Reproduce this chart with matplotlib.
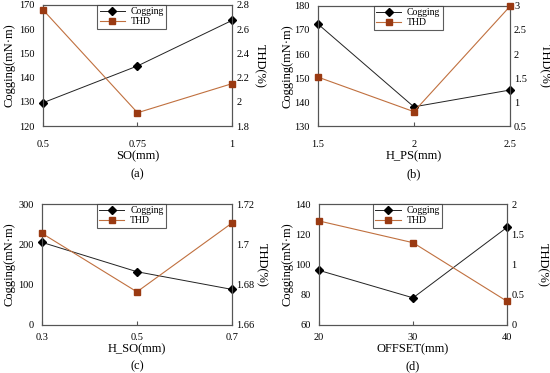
import matplotlib
matplotlib.use("Agg")
import matplotlib.pyplot as plt

plt.rcParams['font.family'] = ['Liberation Serif', 'DejaVu Serif']

# Data
a_x = [0.5, 0.75, 1]
a_xticklabels = ["0.5", "0.75", "1"]
a_cog = [129.6, 144.8, 163.6]
a_thd = [2.76, 1.91, 2.15]

b_x = [1.5, 2, 2.5]
b_xticklabels = ["1.5", "2", "2.5"]
b_cog = [172.5, 138.0, 145.0]
b_thd = [1.52, 0.80, 2.99]

c_x = [0.3, 0.5, 0.7]
c_xticklabels = ["0.3", "0.5", "0.7"]
c_cog = [205, 132, 88]
c_thd = [1.7055, 1.6764, 1.7106]

d_x = [20, 30, 40]
d_xticklabels = ["20", "30", "40"]
d_cog = [96.1, 77.9, 124.6]
d_thd = [1.72, 1.36, 0.39]

panels = [
    dict(x=a_x, xt=a_xticklabels, cog=a_cog, thd=a_thd, xlabel="SO(mm)", tag="(a)",
         ylim=(120, 170), yticks=[120, 130, 140, 150, 160, 170],
         y2lim=(1.8, 2.8), y2ticks=[1.8, 2.0, 2.2, 2.4, 2.6, 2.8],
         y2labels=["1.8", "2", "2.2", "2.4", "2.6", "2.8"],
         pos=[0.078, 0.662, 0.344, 0.325], lx=-0.175, rx=1.145,
         xpad=10, xlpad=1, ty=-0.40),
    dict(x=b_x, xt=b_xticklabels, cog=b_cog, thd=b_thd, xlabel="H_PS(mm)", tag="(b)",
         ylim=(130, 180), yticks=[130, 140, 150, 160, 170, 180],
         y2lim=(0.5, 3), y2ticks=[0.5, 1, 1.5, 2, 2.5, 3],
         y2labels=["0.5", "1", "1.5", "2", "2.5", "3"],
         pos=[0.578, 0.662, 0.349, 0.322], lx=-0.156, rx=1.18,
         xpad=10, xlpad=1, ty=-0.40),
    dict(x=c_x, xt=c_xticklabels, cog=c_cog, thd=c_thd, xlabel="H_SO(mm)", tag="(c)",
         ylim=(0, 300), yticks=[0, 100, 200, 300],
         y2lim=(1.66, 1.72), y2ticks=[1.66, 1.68, 1.70, 1.72],
         y2labels=["1.66", "1.68", "1.7", "1.72"],
         pos=[0.076, 0.129, 0.346, 0.324], lx=-0.168, rx=1.155,
         xpad=6, xlpad=1, ty=-0.345),
    dict(x=d_x, xt=d_xticklabels, cog=d_cog, thd=d_thd, xlabel="OFFSET(mm)", tag="(d)",
         ylim=(60, 140), yticks=[60, 80, 100, 120, 140],
         y2lim=(0, 2), y2ticks=[0, 0.5, 1, 1.5, 2],
         y2labels=["0", "0.5", "1", "1.5", "2"],
         pos=[0.580, 0.129, 0.342, 0.324], lx=-0.165, rx=1.186,
         xpad=6, xlpad=1, ty=-0.345),
]

fig = plt.figure(figsize=(5.5, 3.73), dpi=100)
frame_col = '#555555'
thd_line = '#C0703F'
thd_mark = '#9A3A12'

for p in panels:
    ax = fig.add_axes(p['pos'])
    ax2 = ax.twinx()
    l1, = ax.plot(p['x'], p['cog'], color='#222222', lw=0.7, marker='D', ms=4.5,
                  mfc='black', mec='black', label='Cogging', clip_on=False, zorder=3)
    l2, = ax2.plot(p['x'], p['thd'], color=thd_line, lw=0.8, marker='s', ms=4.5,
                   mfc=thd_mark, mec=thd_mark, label='THD', clip_on=False, zorder=3)
    ax.set_xlim(p['x'][0], p['x'][-1])
    ax.set_xticks(p['x'])
    ax.set_xticklabels(p['xt'])
    ax.set_ylim(*p['ylim'])
    ax.set_yticks(p['yticks'])
    ax2.set_ylim(*p['y2lim'])
    ax2.set_yticks(p['y2ticks'])
    ax2.set_yticklabels(p['y2labels'])
    for a in (ax, ax2):
        for s in a.spines.values():
            s.set_color(frame_col)
            s.set_linewidth(0.8)
    ax.tick_params(axis='x', direction='in', length=3, pad=p['xpad'], labelsize=7.5, color=frame_col)
    ax.tick_params(axis='y', direction='in', length=0, pad=6, labelsize=7.5)
    ax2.tick_params(axis='y', direction='in', length=0, pad=3, labelsize=7.5)
    ax.set_xlabel(p['xlabel'], fontsize=9, labelpad=p['xlpad'])
    ax.set_ylabel('Cogging(mN\u00b7m)', fontsize=9, va='center')
    ax.yaxis.set_label_coords(p['lx'], 0.5)
    ax2.set_ylabel('THD(%)', fontsize=9, rotation=270, va='center')
    ax2.yaxis.set_label_coords(p['rx'], 0.5)
    ax.text(0.5, p['ty'], p['tag'], transform=ax.transAxes, ha='center', va='center', fontsize=9)
    leg = ax2.legend([l1, l2], ['Cogging', 'THD'], loc='upper center',
                     bbox_to_anchor=(0.47, 1.0), fontsize=7, frameon=True, fancybox=False,
                     borderaxespad=0, handlelength=2.6, handletextpad=0.6,
                     borderpad=0.25, labelspacing=0.1, markerscale=0.9)
    leg.get_frame().set_edgecolor('#333333')
    leg.get_frame().set_linewidth(0.8)

fig.savefig('out.png', dpi=100)
